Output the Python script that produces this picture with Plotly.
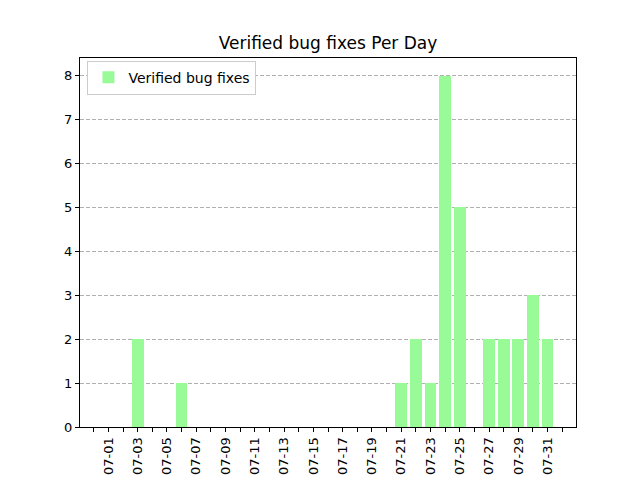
import plotly.graph_objects as go

# daily counts for July (year is not shown on the chart)
days = ["2024-07-%02d" % d for d in range(1, 32)]
fixes = [0, 0, 2, 0, 0, 1, 0, 0, 0, 0,
         0, 0, 0, 0, 0, 0, 0, 0, 0, 0,
         1, 2, 1, 8, 5, 0, 2, 2, 2, 3, 2]

series_name = "Verified bug fixes"
bar_color = "#98FB98"
day_ms = 86400000

fig = go.Figure(
    data=[go.Bar(x=days, y=fixes, name=series_name, width=0.8 * day_ms,
                 marker=dict(color=bar_color, line=dict(width=0, color=bar_color)))]
)

axis_style = dict(showline=True, linecolor="black", linewidth=1, mirror=True,
                  ticks="outside", ticklen=4, tickcolor="black",
                  tickfont=dict(size=13, color="black"), zeroline=False,
                  automargin=False)

# the page body adds an 8px offset, so margins are shifted to compensate
fig.update_layout(
    width=640, height=480,
    margin=dict(l=72, r=72, t=50, b=61),
    paper_bgcolor="white", plot_bgcolor="white",
    font=dict(family="DejaVu Sans", color="black"),
    title=dict(text="Verified bug fixes Per Day", x=(328 - 8) / 640, xanchor="center",
               y=1 - 35 / 480, yanchor="middle", font=dict(size=17)),
    showlegend=True,
    legend=dict(x=0.015, y=0.993, xanchor="left", yanchor="top",
                bgcolor="white", bordercolor="#cccccc", borderwidth=1,
                font=dict(size=14)),
    bargap=0,
)

fig.update_xaxes(type="date", range=["2024-06-29 01:26", "2024-08-01 22:34"],
                 tick0="2024-07-01", dtick=2 * day_ms, tickformat="%m-%d",
                 tickangle=-90, showgrid=False,
                 minor=dict(dtick=day_ms, tick0="2024-07-01", ticks="outside",
                            ticklen=4, tickcolor="black", showgrid=False),
                 **axis_style)
fig.update_yaxes(range=[0, 8.4], dtick=1, showgrid=True, gridcolor="#b0b0b0",
                 griddash="4px,2px", gridwidth=0.8, **axis_style)

fig.write_html("out.html")
